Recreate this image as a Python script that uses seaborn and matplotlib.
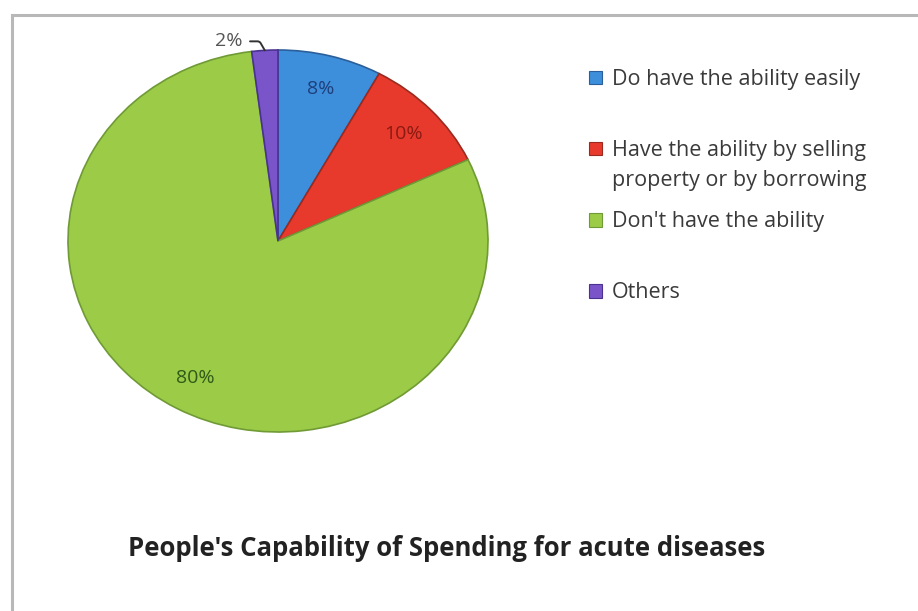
import matplotlib
matplotlib.use("Agg")
import matplotlib.pyplot as plt
import matplotlib.patches as mpatches
import seaborn as sns
import numpy as np

categories = ["Do have the ability easily",
              "Have the ability by selling property or by borrowing",
              "Don't have the ability",
              "Others"]
legend_line1 = ["Do have the ability easily",
                "Have the ability by selling",
                "Don't have the ability",
                "Others"]
legend_line2 = ["", "property or by borrowing", "", ""]
values = [8, 10, 80, 2]
pct_labels = ["8%", "10%", "80%", "2%"]
title = "People's Capability of Spending for acute diseases"

sns.set_theme(style="white")
plt.rcParams['font.family'] = ['Open Sans', 'DejaVu Sans']

colors = ["#3d8fdc", "#e83a2c", "#9ccb47", "#7a55c9"]
edge_colors = ["#2a5f9a", "#9a2a20", "#6f9a35", "#4a3290"]
label_colors = ["#1f3f7a", "#8a1a12", "#2f5a18", "#555555"]

W, H = 918, 611
fig = plt.figure(figsize=(W / 100, H / 100), dpi=100)
fig.patch.set_facecolor("white")

# frame (left and top edges visible)
frame = mpatches.Rectangle((12 / W, -0.05), 1.1, (H - 15) / H + 0.05,
                           transform=fig.transFigure, fill=False,
                           edgecolor="#b8b8b8", linewidth=2.2)
fig.patches.append(frame)

ax = fig.add_axes([68 / W, (H - 432) / H, 420 / W, 382 / H])
wedges, _ = ax.pie(values, colors=colors, startangle=90, counterclock=False,
                   radius=1.0, wedgeprops=dict(linewidth=1.2))
for w, ec in zip(wedges, edge_colors):
    w.set_edgecolor(ec)
ax.set_aspect("auto")
ax.set_xlim(-1, 1)
ax.set_ylim(-1, 1)
ax.axis("off")

for i, w in enumerate(wedges):
    mid = np.deg2rad((w.theta1 + w.theta2) / 2)
    if values[i] >= 5:
        r = 0.82
        ax.text(r * np.cos(mid), r * np.sin(mid), pct_labels[i],
                ha="center", va="center", fontsize=14,
                color=label_colors[i])
    else:
        ex, ey = np.cos(mid), np.sin(mid)
        ax.annotate(pct_labels[i], xy=(ex, ey), xytext=(-16, 6.5),
                    textcoords="offset points", ha="right", va="center",
                    fontsize=14, color=label_colors[i],
                    arrowprops=dict(arrowstyle="-", color="#333333", lw=1.4,
                                    connectionstyle="angle,angleA=0,angleB=120,rad=2",
                                    shrinkA=3, shrinkB=0))

handles = [mpatches.Patch(facecolor=c, edgecolor=ec, linewidth=0.8)
           for c, ec in zip(colors, edge_colors)]
leg = fig.legend(handles, legend_line1, loc="upper left",
                 bbox_to_anchor=(589 / W, 1 - 69 / H),
                 frameon=False, fontsize=15.5, handlelength=0.61,
                 handleheight=0.61, handletextpad=0.46,
                 labelspacing=2.33, borderpad=0, borderaxespad=0)
for t in leg.get_texts():
    t.set_color("#3a3a3a")

fig.text(447 / W, 1 - 548 / H, title, ha="center", va="center",
         fontsize=18.5, fontweight="bold", color="#222222")

fig.canvas.draw()
renderer = fig.canvas.get_renderer()
for i, extra in enumerate(legend_line2):
    if extra:
        bb = leg.get_texts()[i].get_window_extent(renderer)
        x0, yc = bb.x0, (bb.y0 + bb.y1) / 2
        fig.text(x0 / fig.bbox.width, (yc - 30) / fig.bbox.height, extra,
                 ha="left", va="center", fontsize=15.5, color="#3a3a3a")

fig.savefig("out.png", dpi=100, facecolor="white")
